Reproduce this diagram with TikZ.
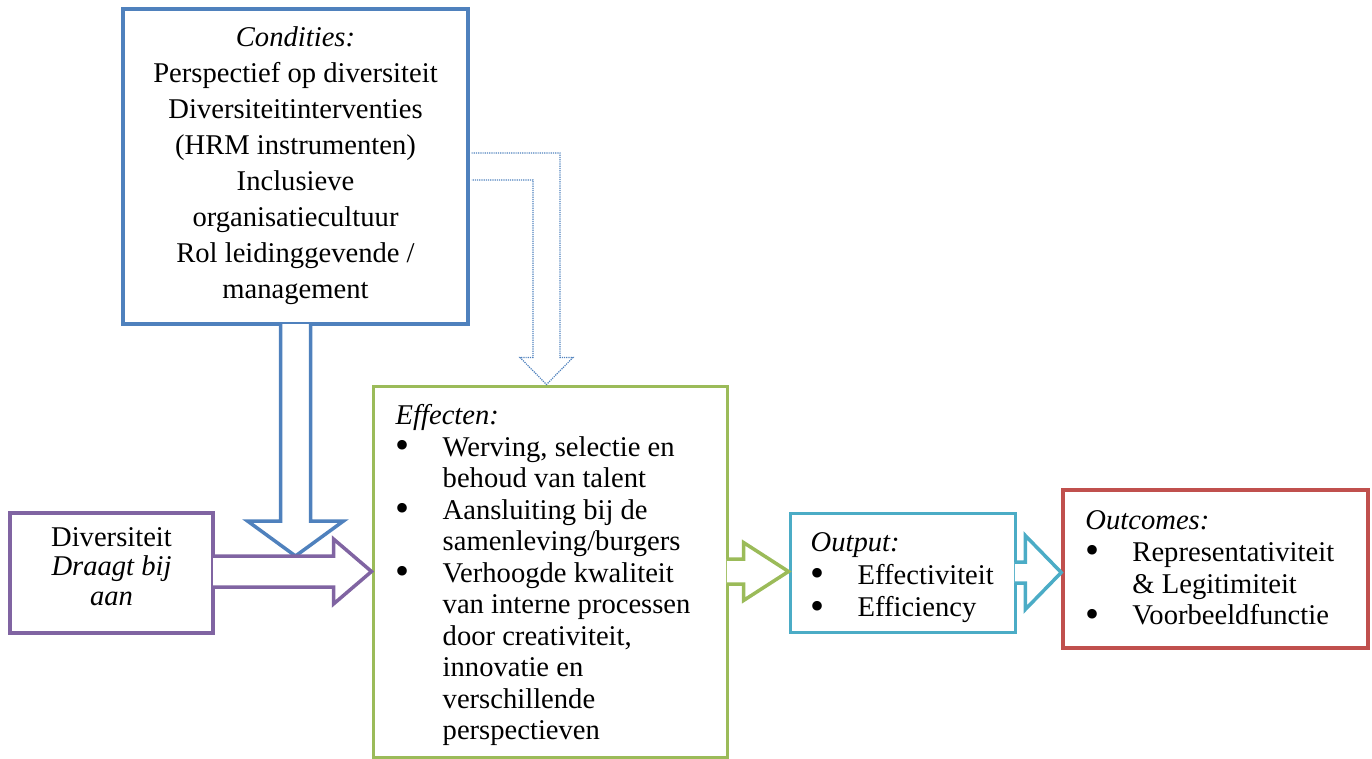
\documentclass[tikz,border=0pt]{standalone}
\usepackage{fontspec}
\setmainfont{Liberation Serif}
\usetikzlibrary{calc}

\definecolor{condblue}{RGB}{79,129,189}
\definecolor{divpurple}{RGB}{128,100,162}
\definecolor{effgreen}{RGB}{155,187,89}
\definecolor{outaqua}{RGB}{75,172,198}
\definecolor{outcred}{RGB}{192,80,77}

\tikzset{
  box/.style={draw, line width=3.5pt, fill=white, inner sep=0pt},
  txt/.style={inner sep=0pt, align=left},
}

% strut for the first line, bullet with hanging text
\newcommand{\fstrut}{\rule{0pt}{25pt}}
\newcommand{\bitem}{\makebox[47pt][l]{\raisebox{-2.5pt}{\scalebox{1.4}{\textbullet}}}}
\newcommand{\bskip}{\hspace*{47pt}}

% block arrow to the right: colour, from, to, half shaft, half head, head length
\newcommand{\blockright}[6]{%
  \filldraw[draw=#1, fill=white, line width=3.5pt]
    let \p1=(#2), \p2=(#3) in
    (\x1-1.75pt,\y2+#4pt) -- (\x2-#6pt,\y2+#4pt) -- (\x2-#6pt,\y2+#5pt)
    -- (\x2,\y2) -- (\x2-#6pt,\y2-#5pt) -- (\x2-#6pt,\y2-#4pt)
    -- (\x1-1.75pt,\y2-#4pt);}

% block arrow downwards: colour, from, to, half shaft, half head, head length
\newcommand{\blockdown}[6]{%
  \filldraw[draw=#1, fill=white, line width=3.5pt]
    let \p1=(#2), \p2=(#3) in
    (\x2+#4pt,\y1+1.75pt) -- (\x2+#4pt,\y2+#6pt) -- (\x2+#5pt,\y2+#6pt)
    -- (\x2,\y2) -- (\x2-#5pt,\y2+#6pt) -- (\x2-#4pt,\y2+#6pt)
    -- (\x2-#4pt,\y1+1.75pt);}

\begin{document}
\begin{tikzpicture}[x=1pt, y=-1pt]
\useasboundingbox (0,0) rectangle (1372,759);

% Boxes
\node[box, draw=condblue, minimum width=345pt, minimum height=315pt] (cond) at (295.5,166.5) {};
\node[box, draw=divpurple, minimum width=203pt, minimum height=120pt] (div) at (111.5,573) {};
\node[box, draw=effgreen, line width=3pt, minimum width=354pt, minimum height=371pt] (eff) at (550,571.5) {};
\node[box, draw=outaqua, line width=3pt, minimum width=225pt, minimum height=119pt] (out) at (902.5,572.5) {};
\node[box, draw=outcred, minimum width=305pt, minimum height=158pt] (outc) at (1215.5,569) {};

% Arrow ends
\coordinate (divtop) at ($(eff.west)+(0,-15.5)$);
\coordinate (efftip) at ($(eff.north)+(-3.5,0)$);

% Block arrows
\blockdown{condblue}{cond.south}{cond.south |- divtop}{15}{48}{35}
\blockright{divpurple}{div.east}{eff.west}{15.5}{32.5}{38}
\blockright{effgreen}{eff.east}{eff.east -| out.west}{12.5}{29}{45}
\blockright{outaqua}{out.east}{out.east -| outc.west}{10.5}{37}{36}

% Dotted arrow from the conditions to the effects
\draw[condblue, line width=1.2pt, densely dotted]
  let \p1=(cond.east), \p2=(efftip) in
  (\x1+1.75pt,\y1+13.5pt) -- (\x2+13.5pt,\y1+13.5pt) -- (\x2+13.5pt,\y2+27pt)
  -- (\x2+26.5pt,\y2+27pt) -- (\x2,\y2) -- (\x2-26.5pt,\y2+27pt)
  -- (\x2-13.5pt,\y2+27pt) -- (\x2-13.5pt,\y1-13.5pt) -- (\x1+1.75pt,\y1-13.5pt);

% Texts
\node[txt, align=center, anchor=north, font=\fontsize{28.6}{36}\selectfont]
  (condtext) at ($(cond.north)+(0,14)$)
  {\fstrut\textit{Condities:}\\ Perspectief op diversiteit\\ Diversiteitinterventies\\
   (HRM instrumenten)\\ Inclusieve\\ organisatiecultuur\\ Rol leidinggevende /\\ management};
\node[txt, align=center, anchor=north, font=\fontsize{28.6}{29.5}\selectfont]
  (divtext) at ($(div.north)+(0,10)$)
  {\fstrut Diversiteit\\ \textit{Draagt bij}\\ \textit{aan}};
\node[txt, anchor=north west, font=\fontsize{28.6}{31.5}\selectfont]
  (efftext) at ($(eff.north west)+(24,15)$)
  {\fstrut\textit{Effecten:}\\
   \bitem Werving, selectie en\\ \bskip behoud van talent\\
   \bitem Aansluiting bij de\\ \bskip samenleving/burgers\\
   \bitem Verhoogde kwaliteit\\ \bskip van interne processen\\
   \bskip door creativiteit,\\ \bskip innovatie en\\ \bskip verschillende\\
   \bskip perspectieven};
\node[txt, anchor=north west, font=\fontsize{28.6}{32.5}\selectfont]
  (outtext) at ($(out.north west)+(22,15)$)
  {\fstrut\textit{Output:}\\ \bitem Effectiviteit\\ \bitem Efficiency};
\node[txt, anchor=north west, font=\fontsize{28.6}{31.8}\selectfont]
  (outctext) at ($(outc.north west)+(24,16)$)
  {\fstrut\textit{Outcomes:}\\ \bitem Representativiteit\\ \bskip \&~Legitimiteit\\
   \bitem Voorbeeldfunctie};
\end{tikzpicture}
\end{document}
